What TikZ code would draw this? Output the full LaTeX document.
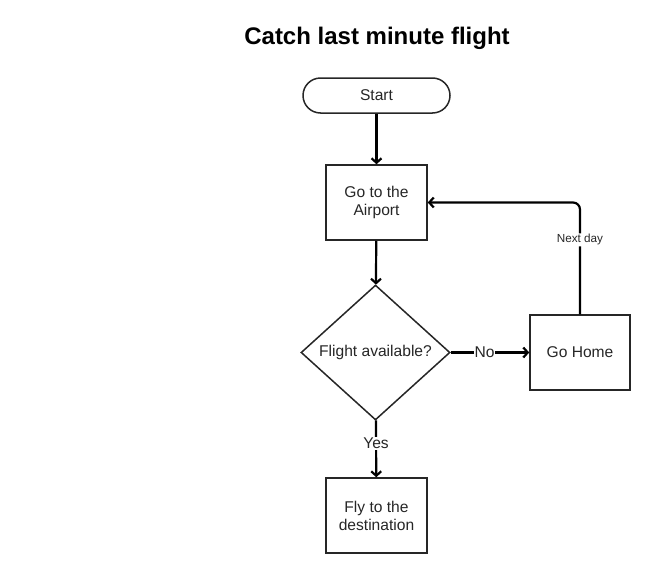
\documentclass[tikz,border=0pt]{standalone}
\usepackage{fontspec}
\setmainfont{Liberation Sans}
\usetikzlibrary{arrows.meta,shapes.geometric}
\begin{document}
\begin{tikzpicture}[x=1pt,y=-1pt,
  base/.style={draw=black!85, line width=1.5pt, font=\fontsize{15.6}{18}\selectfont, text=black!85, align=center, inner sep=0pt},
  procbox/.style={base, rectangle, minimum width=101pt, minimum height=75pt},
  term/.style={base, rectangle, rounded corners=17.5pt, minimum width=147pt, minimum height=35pt},
  decision/.style={base, diamond, aspect=1.1037, minimum width=149pt, minimum height=135pt, inner sep=0pt},
  conn/.style={draw=black, line width=2.2pt, -{Straight Barb[length=4.5pt,width=10pt]}},
  lbl/.style={fill=white, inner sep=1pt, font=\fontsize{15.6}{18}\selectfont, text=black!85},
  smalllbl/.style={fill=white, inner sep=1pt, font=\fontsize{11.7}{14}\selectfont, text=black!85}
]
\useasboundingbox (0,0) rectangle (650,573);
\node[font=\bfseries\fontsize{24}{28}\selectfont] (title) at (377,38) {Catch last minute flight};
\node[term] (start) at (376.5,95.5) {Start};
\node[procbox] (airport) at (376.5,202.5) {Go to the\\Airport};
\node[decision] (avail) at (375.5,352.5) {};
\node[base, draw=none] (availtxt) at (375.5,352.5) {Flight available?};
\node[procbox, minimum width=100pt] (home) at (580,352.5) {Go Home};
\node[procbox] (fly) at (376.5,515.5) {Fly to the\\destination};
\draw[conn] (start) -- (airport);
\draw[conn] (airport) -- (avail);
\draw[conn] (avail) -- node[lbl, pos=0.4] {Yes} (fly);
\draw[conn] (avail) -- node[lbl, pos=0.43] {No} (home);
\draw[conn, rounded corners=7pt] (home.north) |- node[smalllbl, pos=0.333] {Next day} (airport.east);
\end{tikzpicture}
\end{document}
